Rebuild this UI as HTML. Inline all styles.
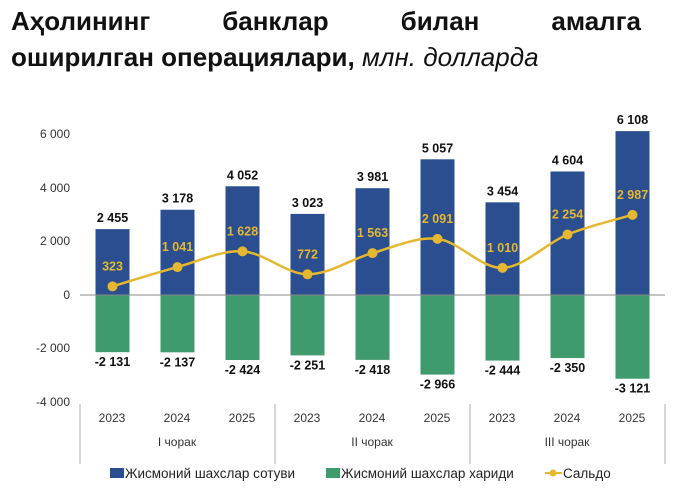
<!DOCTYPE html>
<html><head><meta charset="utf-8"><style>
body{margin:0;width:680px;height:499px;background:#fff;overflow:hidden;font-family:"Liberation Sans",Arial,sans-serif}
.t{position:absolute;left:11px;width:630px;font-size:26px;font-weight:bold;color:#111;line-height:34px}
</style></head><body>
<div class="t" style="top:4px;text-align:justify;text-align-last:justify">Аҳолининг банклар билан амалга</div>
<div class="t" style="top:40px">оширилган операциялари, <span style="font-weight:normal;font-style:italic">млн. долларда</span></div>
<svg width="680" height="499" style="position:absolute;left:0;top:0" font-family="Liberation Sans, Arial, sans-serif">
<g font-size="12" fill="#333" text-anchor="end">
<text x="70" y="138">6 000</text><text x="70" y="192">4 000</text><text x="70" y="245">2 000</text>
<text x="70" y="299">0</text><text x="70" y="352">-2 000</text><text x="70" y="406">-4 000</text>
</g>
<g id="bars"></g>
<line x1="80" y1="295" x2="665" y2="295" stroke="#888" stroke-width="1"/>
<g stroke="#bbb" stroke-width="1.2"><line x1="80" y1="404" x2="80" y2="464"/><line x1="275" y1="404" x2="275" y2="464"/><line x1="470" y1="404" x2="470" y2="464"/><line x1="665" y1="404" x2="665" y2="464"/></g>
<path id="ln" fill="none" stroke="#e5b830" stroke-width="2.5"/>
<g id="pts"></g>
<g font-size="12" fill="#333" text-anchor="middle">
<text x="112" y="422">2023</text><text x="177" y="422">2024</text><text x="242" y="422">2025</text>
<text x="307" y="422">2023</text><text x="372" y="422">2024</text><text x="437" y="422">2025</text>
<text x="502" y="422">2023</text><text x="567" y="422">2024</text><text x="632" y="422">2025</text>
<text x="177" y="446">I чорак</text><text x="372" y="446">II чорак</text><text x="567" y="446">III чорак</text>
</g>
<g font-size="13.5" fill="#222">
<rect x="110" y="468" width="14" height="10" fill="#2a4e8f"/><text x="125" y="478">Жисмоний шахслар сотуви</text>
<rect x="326" y="468" width="14" height="10" fill="#3f9a6e"/><text x="341" y="478">Жисмоний шахслар хариди</text>
<line x1="545" y1="473" x2="562" y2="473" stroke="#e5b830" stroke-width="2"/><circle cx="553" cy="473" r="3.5" fill="#e5b830"/><text x="563" y="478">Сальдо</text>
</g>
</svg>
<script>
var pos=[2455,3178,4052,3023,3981,5057,3454,4604,6108],neg=[2131,2137,2424,2251,2418,2966,2444,2350,3121],sal=[323,1041,1628,772,1563,2091,1010,2254,2987];
var k=0.02683,z=295,ns="http://www.w3.org/2000/svg",B=document.getElementById('bars'),P=document.getElementById('pts');
function f(n){var s=String(n);return s.length>3?s.slice(0,-3)+' '+s.slice(-3):s}
function el(t,a,p,tx){var e=document.createElementNS(ns,t);for(var i in a)e.setAttribute(i,a[i]);if(tx)e.textContent=tx;p.appendChild(e)}
var xs=[],ys=[];
for(var i=0;i<9;i++){var c=112.5+65*i,h=pos[i]*k,g=neg[i]*k;
el('rect',{x:c-17,y:z-h,width:34,height:h,fill:'#2a4e8f'},B);
el('rect',{x:c-17,y:z,width:34,height:g,fill:'#3f9a6e'},B);
el('text',{x:c,y:z-h-7,'font-size':12.5,'font-weight':'bold','text-anchor':'middle',fill:'#111'},B,f(pos[i]));
el('text',{x:c,y:z+g+14,'font-size':12.5,'font-weight':'bold','text-anchor':'middle',fill:'#111'},B,'-'+f(neg[i]));
xs.push(c);ys.push(z-sal[i]*k);}
var d='M'+xs[0]+','+ys[0];
for(var i=0;i<8;i++){var x0=xs[Math.max(i-1,0)],y0=ys[Math.max(i-1,0)],x3=xs[Math.min(i+2,8)],y3=ys[Math.min(i+2,8)];
d+=' C'+(xs[i]+(xs[i+1]-x0)/6)+','+(ys[i]+(ys[i+1]-y0)/6)+' '+(xs[i+1]-(x3-xs[i])/6)+','+(ys[i+1]-(y3-ys[i])/6)+' '+xs[i+1]+','+ys[i+1];}
document.getElementById('ln').setAttribute('d',d);
for(var i=0;i<9;i++){el('circle',{cx:xs[i],cy:ys[i],r:5,fill:'#e5b830'},P);
el('text',{x:xs[i],y:ys[i]-16,'font-size':12.5,'font-weight':'bold','text-anchor':'middle',fill:'#e5b830'},P,f(sal[i]));}
</script>
</body></html>
